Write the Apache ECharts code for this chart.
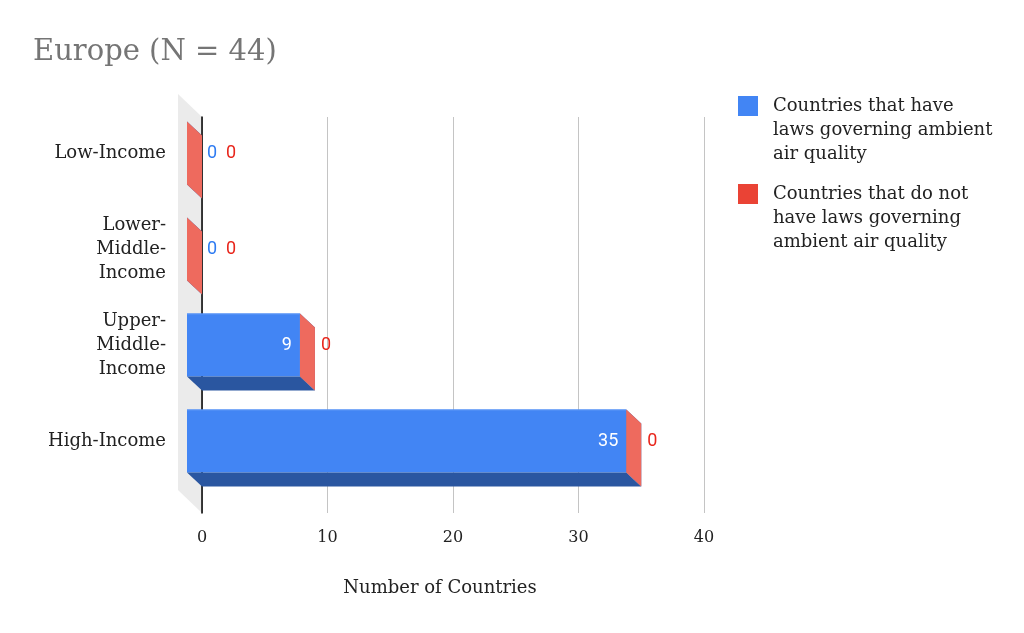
<!DOCTYPE html>
<html>
<head>
<meta charset="utf-8">
<script src="https://cdn.jsdelivr.net/npm/echarts@6/dist/echarts.min.js"></script>
<style>html,body{margin:0;padding:0;background:#fff;}#chart{width:1024px;height:633px;}</style>
</head>
<body>
<div id="chart"></div>
<script>
const titleText = 'Europe (N = 44)';
const categories = ['Low-Income', 'Lower-\nMiddle-\nIncome', 'Upper-\nMiddle-\nIncome', 'High-Income'];
const seriesNames = [
  'Countries that have\nlaws governing ambient\nair quality',
  'Countries that do not\nhave laws governing\nambient air quality'
];
const haveLaws = [0, 0, 9, 35];
const noLaws = [0, 0, 0, 0];
const xMin = 0, xMax = 40, xInterval = 10;
const axisName = 'Number of Countries';

const SERIF = '"DejaVu Serif", serif';
const DX = 15, DY = 14;
const WALL = 24;
const LEGEND_ICON = 'path://M0,0M0,2L20,2L20,22L0,22ZM30,72';

const blueData = haveLaws.map((v, i) => [i, 0, v]);
const redData = noLaws.map((v, i) => [i, haveLaws[i], v]);

function makeBar(colors, labelFn) {
  return function (params, api) {
    const i = api.value(0), base = api.value(1), v = api.value(2);
    const c0 = api.coord([base, i]);
    const c1 = api.coord([base + v, i]);
    const band = api.size([0, 1])[1];
    const h = band * 0.656;
    const yc = c0[1];
    const top = yc - h / 2, bot = yc + h / 2;
    const fx0 = c0[0] - DX, fx1 = c1[0] - DX;
    const children = [];
    if (fx1 > fx0) {
      children.push({ type: 'rect', shape: { x: fx0, y: top, width: fx1 - fx0, height: h }, style: { fill: colors.front } });
      children.push({ type: 'polygon', shape: { points: [[fx0, bot], [fx1, bot], [fx1 + DX, bot + DY], [fx0 + DX, bot + DY]] }, style: { fill: colors.bottom } });
      children.push({ type: 'line', shape: { x1: fx0, y1: top + 0.5, x2: fx1, y2: top + 0.5 }, style: { stroke: colors.edge, lineWidth: 1 } });
    }
    children.push({ type: 'polygon', shape: { points: [[fx1, top], [fx1 + DX, top + DY], [fx1 + DX, bot + DY], [fx1, bot]] }, style: { fill: colors.cap } });
    const lab = labelFn(v, base, c0, c1, yc, fx1);
    children.push({ type: 'text', style: Object.assign({ fontFamily: 'Roboto, sans-serif', fontSize: 18, verticalAlign: 'middle' }, lab) });
    return { type: 'group', children: children };
  };
}

const chart = echarts.init(document.getElementById('chart'));
chart.setOption({
  animation: false,
  backgroundColor: '#ffffff',
  title: {
    text: titleText, left: 33, top: 38, padding: 0,
    textStyle: { fontFamily: SERIF, fontSize: 29, fontWeight: 'normal', color: '#757575' }
  },
  legend: {
    orient: 'vertical', left: 738, top: 94, padding: 0, itemGap: 16,
    itemWidth: 30, itemHeight: 72, icon: LEGEND_ICON, selectedMode: false,
    data: seriesNames,
    textStyle: { fontFamily: SERIF, fontSize: 18, lineHeight: 24, color: '#222222' }
  },
  grid: [
    { left: 202, right: 320, top: 117, bottom: 120 },
    { left: 202, right: 320, top: 105, bottom: 144 }
  ],
  xAxis: [
    {
      gridIndex: 0, type: 'value', min: xMin, max: xMax, interval: xInterval,
      axisLine: { show: false }, axisTick: { show: false },
      splitLine: { show: true, lineStyle: { color: '#c4c4c4', width: 1 } },
      axisLabel: { margin: 17, fontFamily: SERIF, fontSize: 16, color: '#222222' },
      name: axisName, nameLocation: 'middle', nameGap: 66,
      nameTextStyle: { fontFamily: SERIF, fontSize: 18, color: '#222222', padding: [0, 26, 0, 0] }
    },
    { gridIndex: 1, type: 'value', min: xMin, max: xMax, interval: xInterval, show: false }
  ],
  yAxis: [
    {
      gridIndex: 0, type: 'value', min: 0, max: 1,
      axisLine: { show: true, lineStyle: { color: '#000000', width: 1.5 } },
      axisTick: { show: false }, axisLabel: { show: false }, splitLine: { show: false }
    },
    {
      gridIndex: 1, type: 'category', data: categories, inverse: true,
      axisLine: { show: false }, axisTick: { show: false }, splitLine: { show: false },
      axisLabel: { margin: 36, fontFamily: SERIF, fontSize: 18, lineHeight: 24, color: '#222222', align: 'right' }
    }
  ],
  series: [
    {
      type: 'custom', name: 'wall', xAxisIndex: 0, yAxisIndex: 0, z: -1, silent: true,
      data: [[0, 0]],
      renderItem: function (params, api) {
        const cs = params.coordSys;
        const x = cs.x, y = cs.y, hgt = cs.height;
        return {
          type: 'polygon',
          shape: { points: [[x - WALL, y - WALL + 1], [x, y], [x, y + hgt], [x - WALL, y + hgt - WALL + 1]] },
          style: { fill: '#ebebeb' }
        };
      }
    },
    {
      type: 'custom', name: seriesNames[0], xAxisIndex: 1, yAxisIndex: 1, z: 3,
      itemStyle: { color: '#4285F4' },
      encode: { x: 2, y: 0 },
      data: blueData,
      renderItem: makeBar(
        { front: '#4285F4', bottom: '#2A56A0', cap: '#2f62b8', edge: '#5c97f6' },
        function (v, base, c0, c1, yc, fx1) {
          if (v > 0) return { text: String(v), x: fx1 - 8, y: yc, align: 'right', fill: '#ffffff' };
          return { text: String(v), x: c0[0] + 5, y: yc, align: 'left', fill: '#2e7bf2' };
        }
      )
    },
    {
      type: 'custom', name: seriesNames[1], xAxisIndex: 1, yAxisIndex: 1, z: 4,
      itemStyle: { color: '#EA4335' },
      encode: { x: 2, y: 0 },
      data: redData,
      renderItem: makeBar(
        { front: '#EA4335', bottom: '#a8302a', cap: '#ee6a5e', edge: '#ef6b60' },
        function (v, base, c0, c1, yc, fx1) {
          const x = base === 0 ? c1[0] + 24 : c1[0] + 6;
          return { text: String(v), x: x, y: yc, align: 'left', fill: '#e8251b' };
        }
      )
    }
  ]
});
</script>
</body>
</html>
